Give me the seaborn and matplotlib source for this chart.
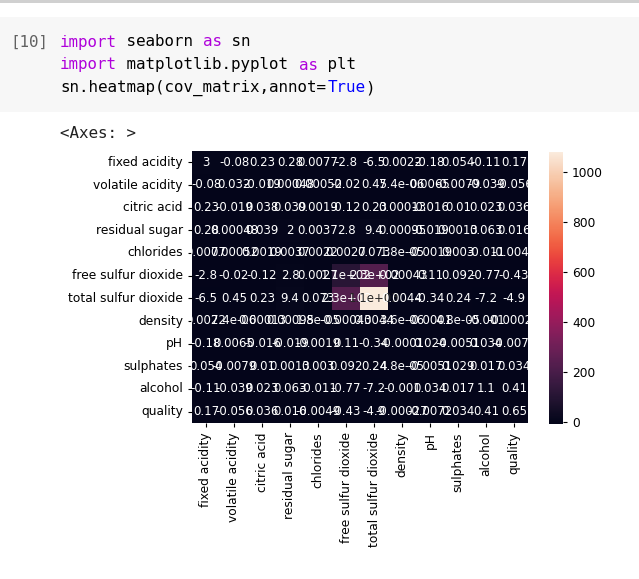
import pandas as pd
import seaborn as sn
import matplotlib
matplotlib.use("Agg")
import matplotlib.pyplot as plt
from matplotlib.patches import Rectangle


labels = ['fixed acidity', 'volatile acidity', 'citric acid', 'residual sugar',
          'chlorides', 'free sulfur dioxide', 'total sulfur dioxide', 'density',
          'pH', 'sulphates', 'alcohol', 'quality']

fixed_acidity = [3.0, -0.08, 0.23, 0.28, 0.0077, -2.8, -6.5, 0.0022, -0.18, 0.054, -0.11, 0.17]
volatile_acidity = [-0.08, 0.032, -0.019, 0.00048, 0.00052, -0.02, 0.45, 7.4e-06, 0.0065, -0.0079, -0.039, -0.056]
citric_acid = [0.23, -0.019, 0.038, 0.039, 0.0019, -0.12, 0.23, 0.00013, -0.016, 0.01, 0.023, 0.036]
residual_sugar = [0.28, 0.00048, 0.039, 2.0, 0.0037, 2.8, 9.4, 0.00095, -0.019, 0.0013, 0.063, 0.016]
chlorides = [0.0077, 0.00052, 0.0019, 0.0037, 0.0022, 0.0027, 0.073, 1.8e-05, -0.0019, 0.003, -0.011, -0.0049]
free_so2 = [-2.8, -0.02, -0.12, 2.8, 0.0027, 109, 230, -0.00043, 0.11, 0.092, -0.77, -0.43]
total_so2 = [-6.5, 0.45, 0.23, 9.4, 0.073, 230, 1082, 0.0044, -0.34, 0.24, -7.2, -4.9]
density = [0.0022, 7.4e-06, 0.00013, 0.00095, 1.8e-05, -0.00043, 0.0044, 3.6e-06, -0.0001, 4.8e-05, -0.001, -0.00027]
ph = [-0.18, 0.0065, -0.016, -0.019, -0.0019, 0.11, -0.34, -0.0001, 0.024, -0.0051, 0.034, -0.0072]
sulphates = [0.054, -0.0079, 0.01, 0.0013, 0.003, 0.092, 0.24, 4.8e-05, -0.0051, 0.029, 0.017, 0.034]
alcohol = [-0.11, -0.039, 0.023, 0.063, -0.011, -0.77, -7.2, -0.001, 0.034, 0.017, 1.1, 0.41]
quality = [0.17, -0.056, 0.036, 0.016, -0.0049, -0.43, -4.9, -0.00027, -0.0072, 0.034, 0.41, 0.65]

cov_matrix = pd.DataFrame([fixed_acidity, volatile_acidity, citric_acid, residual_sugar,
                           chlorides, free_so2, total_so2, density, ph, sulphates,
                           alcohol, quality], index=labels, columns=labels)

W, H = 639, 579
fig = plt.figure(figsize=(W / 100, H / 100), dpi=100)
fig.patch.set_facecolor('white')

# notebook cell chrome
fig.patches.append(Rectangle((0, 1 - 112 / H), 1, (112 - 17) / H, transform=fig.transFigure,
                             facecolor='#f7f7f7', edgecolor='none', zorder=0))
fig.patches.append(Rectangle((0, 1 - 3 / H), 1, 3 / H, transform=fig.transFigure,
                             facecolor='#d0d0d0', edgecolor='none', zorder=0))

mono = 'DejaVu Sans Mono'
cw = 9.55 / W
x0 = 60 / W
code_lines = [
    [('import', '#af00db'), (' seaborn ', '#000000'), ('as', '#af00db'), (' sn', '#000000')],
    [('import', '#af00db'), (' matplotlib.pyplot ', '#000000'), ('as', '#af00db'), (' plt', '#000000')],
    [('sn.heatmap(cov_matrix,annot=', '#000000'), ('True', '#0000ff'), (')', '#000000')],
]
fig.text(10 / W, 1 - 42 / H, '[10]', family=mono, fontsize=11.4, color='#616161', va='center')
for i, parts in enumerate(code_lines):
    y = 1 - (42 + 23 * i) / H
    n = 0
    for txt, col in parts:
        fig.text(x0 + n * cw, y, txt, family=mono, fontsize=11.4, color=col, va='center')
        n += len(txt)
fig.text(x0, 1 - 134 / H, '<Axes: >', family=mono, fontsize=11.4, color='#212121', va='center')

ax = fig.add_axes([192 / W, 1 - 423 / H, (528 - 192) / W, (423 - 151) / H])
cax = fig.add_axes([549 / W, 1 - 424 / H, 14 / W, (424 - 152) / H])

sn.heatmap(cov_matrix, annot=True, ax=ax, cbar_ax=cax, annot_kws={'fontsize': 8.5})

fs = 8.8
ax.tick_params(labelsize=fs, length=3, width=0.8)
cax.tick_params(labelsize=fs, length=3, width=0.8)
for t in ax.get_xticklabels():
    t.set_rotation(90)
for t in ax.get_yticklabels():
    t.set_rotation(0)

fig.savefig('out.png', dpi=100)
